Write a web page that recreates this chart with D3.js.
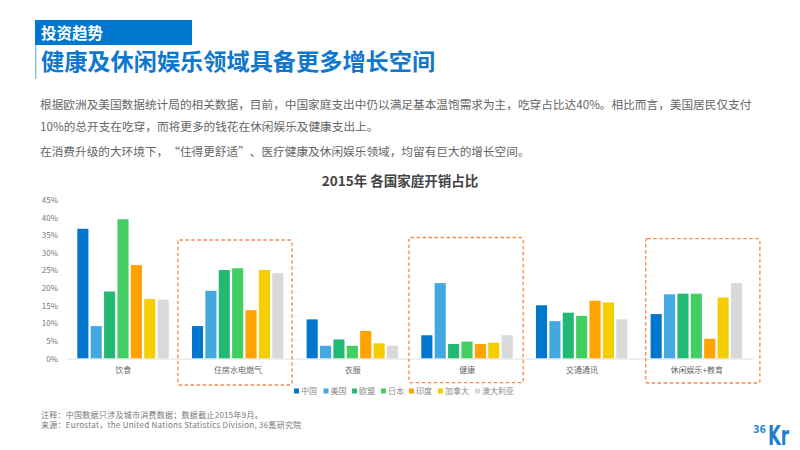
<!DOCTYPE html>
<html lang="zh-CN">
<head>
<meta charset="utf-8">
<script src="https://cdn.jsdelivr.net/npm/d3@7/dist/d3.min.js"></script>
<style>
html, body { margin: 0; padding: 0; background: #fff; }
svg { display: block; }
text { font-family: "Noto Sans CJK SC", "Noto Sans", sans-serif; text-spacing-trim: space-all; }
</style>
</head>
<body>
<div id="chart"></div>
<script>
const categories = ["饮食", "住房水电燃气", "衣服", "健康", "交通通讯", "休闲娱乐+教育"];
const seriesNames = ["中国", "美国", "欧盟", "日本", "印度", "加拿大", "澳大利亚"];
const seriesColors = ["#0077cf", "#44a8e0", "#22ba72", "#42ce62", "#ffa300", "#f4ce00", "#d9d9d9"];

const china = [36.8, 9.2, 11.1, 6.6, 15.1, 12.6];
const usa = [9.2, 19.2, 3.6, 21.4, 10.6, 18.2];
const eu = [19.0, 25.1, 5.4, 4.1, 13.0, 18.4];
const japan = [39.5, 25.6, 3.6, 4.8, 12.1, 18.4];
const india = [26.5, 13.7, 7.8, 4.1, 16.4, 5.6];
const canada = [16.9, 25.1, 4.3, 4.5, 15.9, 17.3];
const australia = [16.7, 24.2, 3.6, 6.6, 11.1, 21.4];
const seriesValues = [china, usa, eu, japan, india, canada, australia];

const yTicks = [0, 5, 10, 15, 20, 25, 30, 35, 40, 45];

const tagText = "投资趋势";
const titleText = "健康及休闲娱乐领域具备更多增长空间";
const bodyLines = [
    "根据欧洲及美国数据统计局的相关数据，目前，中国家庭支出中仍以满足基本温饱需求为主，吃穿占比达40%。相比而言，美国居民仅支付",
    "10%的总开支在吃穿，而将更多的钱花在休闲娱乐及健康支出上。",
    "在消费升级的大环境下，“住得更舒适”、医疗健康及休闲娱乐领域，均留有巨大的增长空间。"
];
const chartTitle = "2015年 各国家庭开销占比";
const noteLines = [
    "注释：中国数据只涉及城市消费数据；数据截止2015年9月。",
    "来源：Eurostat，the United Nations Statistics Division, 36氪研究院"
];

const svg = d3.select("#chart").append("svg")
    .attr("width", 800)
    .attr("height", 450);

// header
svg.append("rect").attr("x", 35).attr("y", 20).attr("width", 157).attr("height", 25).attr("fill", "#0077cf");
svg.append("rect").attr("x", 35).attr("y", 45).attr("width", 1.5).attr("height", 34).attr("fill", "#8fc3ec");
svg.append("text").attr("x", 41).attr("y", 38.5)
    .attr("font-size", 15.5).attr("font-weight", 700).attr("fill", "#fff").text(tagText);
svg.append("text").attr("x", 41).attr("y", 69.5)
    .attr("font-size", 23.2).attr("font-weight", 700).attr("fill", "#0f78cc").text(titleText);

// body text
const bodyY = [109, 131, 156];
svg.selectAll("text.body").data(bodyLines).join("text")
    .attr("class", "body")
    .attr("x", 40)
    .attr("y", (d, i) => bodyY[i])
    .attr("font-size", 11.67)
    .attr("fill", "#666")
    .text(d => d);

svg.append("text").attr("x", 400).attr("y", 186)
    .attr("text-anchor", "middle")
    .attr("font-size", 13.5).attr("font-weight", 700).attr("fill", "#444")
    .text(chartTitle);

// scales
const x0 = d3.scaleBand().domain(categories).range([66, 754]);
const x1 = d3.scaleBand().domain(seriesNames).range([11.3, 102.7]).paddingInner(0.17);
const y = d3.scaleLinear().domain([0, 40]).range([358.5, 217.5]);

// bars
const groups = svg.selectAll("g.group").data(categories).join("g")
    .attr("class", "group")
    .attr("transform", d => `translate(${x0(d)},0)`);

groups.selectAll("rect")
    .data((d, c) => seriesNames.map((s, i) => ({ s, color: seriesColors[i], v: seriesValues[i][c] })))
    .join("rect")
    .attr("x", d => x1(d.s))
    .attr("y", d => y(d.v))
    .attr("width", x1.bandwidth())
    .attr("height", d => y(0) - y(d.v))
    .attr("fill", d => d.color);

// axes
const yAxis = d3.axisLeft(y).tickValues(yTicks).tickSize(0).tickPadding(0).tickFormat(d => d + "%");
const yG = svg.append("g").attr("transform", "translate(58,0)").call(yAxis);
yG.select(".domain").remove();
yG.selectAll("text").attr("font-size", 8).attr("fill", "#777")
    .style("font-family", '"Noto Sans CJK SC", sans-serif');

const xAxis = d3.axisBottom(x0).tickSize(0).tickPadding(9);
const xG = svg.append("g").attr("transform", `translate(0,${y(0)})`).call(xAxis);
xG.select(".domain").attr("stroke", "#e0e0e0").attr("stroke-width", 1);
xG.selectAll("text").attr("font-size", 8).attr("fill", "#666")
    .style("font-family", '"Noto Sans CJK SC", sans-serif');

// 虚线框
const highlightBoxes = [
    { cat: "住房水电燃气", dx: -2.7, top: 240, bottom: 385 },
    { cat: "健康", dx: -1, top: 237.5, bottom: 382.7 },
    { cat: "休闲娱乐+教育", dx: 6.4, top: 238.7, bottom: 383 }
];
svg.selectAll("rect.highlight").data(highlightBoxes).join("rect")
    .attr("class", "highlight")
    .attr("x", d => x0(d.cat) + d.dx)
    .attr("y", d => d.top)
    .attr("width", x0.bandwidth() - 0.5)
    .attr("height", d => d.bottom - d.top)
    .attr("rx", 1.5)
    .attr("fill", "none")
    .attr("stroke", "#f58a4b")
    .attr("stroke-width", 1.3)
    .attr("stroke-dasharray", "3.5 2.5");

// legend
const legendX = [294, 323.5, 352, 381, 409, 438, 475];
const legend = svg.selectAll("g.legend").data(seriesNames).join("g")
    .attr("class", "legend")
    .attr("transform", (d, i) => `translate(${legendX[i]},391)`);
legend.append("rect").attr("x", 0).attr("y", -2.5).attr("width", 5).attr("height", 5)
    .attr("fill", (d, i) => seriesColors[i]);
legend.append("text").attr("x", 7).attr("y", 3).attr("font-size", 8).attr("fill", "#888").text(d => d);

// notes
svg.selectAll("text.note").data(noteLines).join("text")
    .attr("class", "note")
    .attr("x", 41)
    .attr("y", (d, i) => 417.5 + i * 10)
    .attr("font-size", 8)
    .attr("letter-spacing", 0.27)
    .attr("fill", "#777")
    .text(d => d);

// logo
svg.append("text").attr("x", 753).attr("y", 433)
    .attr("font-size", 10).attr("font-weight", 700).attr("fill", "#2f8ad4")
    .style("font-family", "DejaVu Sans")
    .attr("textLength", 13).attr("lengthAdjust", "spacingAndGlyphs").text("36");
svg.append("text").attr("x", 768).attr("y", 445)
    .attr("font-size", 26).attr("font-weight", 700).attr("fill", "#1f7fcb")
    .style("font-family", "DejaVu Sans")
    .attr("textLength", 21).attr("lengthAdjust", "spacingAndGlyphs").text("Kr");
</script>
</body>
</html>
